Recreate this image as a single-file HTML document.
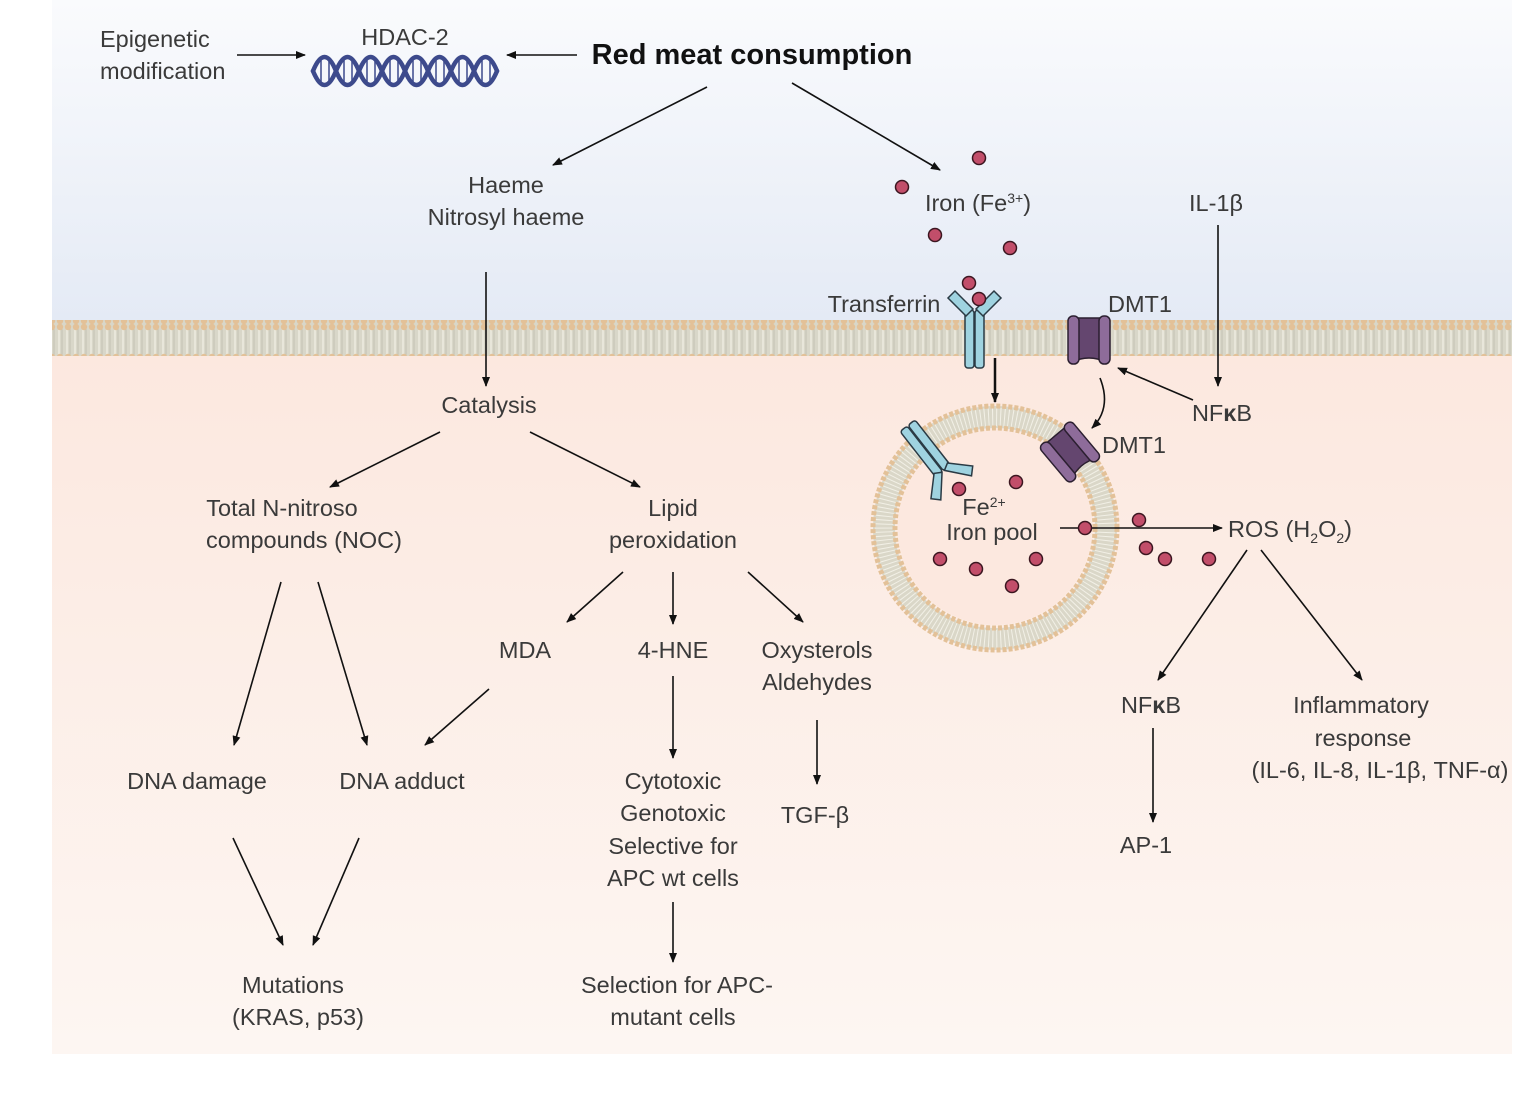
<!DOCTYPE html>
<html><head><meta charset="utf-8"><style>
html,body{margin:0;padding:0;background:#fff}
svg{display:block}
text{font-family:"Liberation Sans",sans-serif;font-size:23.5px;fill:#3a3a3a;text-anchor:middle}
</style></head><body>
<svg width="1536" height="1108" viewBox="0 0 1536 1108" xmlns="http://www.w3.org/2000/svg">
<defs>
<linearGradient id="top" x1="0" y1="0" x2="0" y2="1">
<stop offset="0" stop-color="#fafbfd"/><stop offset="1" stop-color="#e4eaf5"/></linearGradient>
<linearGradient id="bot" x1="0" y1="0" x2="0" y2="1">
<stop offset="0" stop-color="#fce8df"/><stop offset="1" stop-color="#fdf6f2"/></linearGradient>
<pattern id="lip" width="8" height="36" patternUnits="userSpaceOnUse">
<rect width="8" height="36" fill="#d9d7c9"/>
<line x1="3" y1="5" x2="3" y2="31" stroke="#f2f0e6" stroke-width="1.2"/>
<line x1="6" y1="5" x2="6" y2="31" stroke="#bdbcae" stroke-width="0.8"/>
<circle cx="4" cy="3" r="3.2" fill="#e3c198"/>
<circle cx="4" cy="33" r="3.2" fill="#e3c198"/>
</pattern>
<marker id="a" viewBox="0 0 10 10" refX="9" refY="5" markerWidth="10" markerHeight="10" markerUnits="userSpaceOnUse" orient="auto">
<path d="M0,1 L10,5 L0,9 z" fill="#111"/></marker>
</defs>
<rect x="52" y="0" width="1460" height="322" fill="url(#top)"/>
<rect x="52" y="354" width="1460" height="700" fill="url(#bot)"/>
<rect x="52" y="320" width="1460" height="36" fill="url(#lip)"/>

<!-- vesicle -->
<circle cx="995" cy="528" r="111" fill="none" stroke="#dad7c8" stroke-width="22"/>
<circle cx="995" cy="528" r="111" fill="none" stroke="#f2f0e6" stroke-width="18" stroke-dasharray="1 3"/>
<circle cx="995" cy="528" r="122" fill="none" stroke="#e3c198" stroke-width="5" stroke-dasharray="4 2"/>
<circle cx="995" cy="528" r="100" fill="none" stroke="#e3c198" stroke-width="5" stroke-dasharray="4 2"/>
<circle cx="995" cy="528" r="97" fill="#fce8df"/>

<!-- DNA -->
<g stroke="#3d4a8c" stroke-width="1.5">
<path d="M321,60v22M329,58v26M344,60v22M352,58v26M367,60v22M375,58v26M390,60v22M398,58v26M413,60v22M421,58v26M436,60v22M444,58v26M459,60v22M467,58v26M482,60v22M490,58v26"/></g>
<g fill="none" stroke="#3d4a8c" stroke-width="4.5" stroke-linecap="round">
<path d="M313,71 Q324.5,43 336,71 T359,71 T382,71 T405,71 T428,71 T451,71 T474,71 T497,71"/>
<path d="M313,71 Q324.5,99 336,71 T359,71 T382,71 T405,71 T428,71 T451,71 T474,71 T497,71"/>
</g>

<!-- arrows -->
<g stroke="#111" stroke-width="1.6" fill="none" marker-end="url(#a)">
<line x1="237" y1="55" x2="305" y2="55"/>
<line x1="577" y1="55" x2="507" y2="55"/>
<line x1="707" y1="87" x2="553" y2="165"/>
<line x1="792" y1="83" x2="940" y2="170"/>
<line x1="486" y1="272" x2="486" y2="386"/>
<line x1="440" y1="432" x2="330" y2="487"/>
<line x1="530" y1="432" x2="640" y2="487"/>
<line x1="281" y1="582" x2="234" y2="745"/>
<line x1="318" y1="582" x2="367" y2="745"/>
<line x1="489" y1="689" x2="425" y2="745"/>
<line x1="623" y1="572" x2="567" y2="622"/>
<line x1="673" y1="572" x2="673" y2="624"/>
<line x1="748" y1="572" x2="803" y2="622"/>
<line x1="673" y1="676" x2="673" y2="758"/>
<line x1="817" y1="720" x2="817" y2="784"/>
<line x1="233" y1="838" x2="283" y2="945"/>
<line x1="359" y1="838" x2="313" y2="945"/>
<line x1="673" y1="902" x2="673" y2="962"/>
<line x1="1218" y1="225" x2="1218" y2="386"/>
<line x1="1193" y1="400" x2="1118" y2="368"/>
<line x1="995" y1="358" x2="995" y2="402" stroke-width="2.5"/>
<path d="M1100,378 Q1112,408 1092,428"/>
<line x1="1060" y1="528" x2="1222" y2="528"/>
<line x1="1247" y1="550" x2="1158" y2="680"/>
<line x1="1261" y1="550" x2="1362" y2="680"/>
<line x1="1153" y1="728" x2="1153" y2="822"/>
</g>

<!-- transferrin top -->
<g fill="#9fd3e0" stroke="#2a3a44" stroke-width="1.5">
<rect x="965" y="310" width="9" height="58" rx="3"/><rect x="975" y="310" width="9" height="58" rx="3"/>
<path d="M966,316 L948,298 L955,291 L973,309z"/><path d="M983,316 L1001,298 L994,291 L976,309z"/>
</g>
<g transform="translate(935,460) rotate(-38)" fill="#9fd3e0" stroke="#2a3a44" stroke-width="1.5">
<rect x="-10" y="-44" width="9" height="58" rx="3"/><rect x="0" y="-44" width="9" height="58" rx="3"/>
<path d="M-9,10 L-27,28 L-20,35 L-2,14z"/><path d="M8,10 L26,28 L19,35 L1,14z"/>
</g>
<!-- DMT1 -->
<g fill="#7a5a86" stroke="#2b1f30" stroke-width="1.5">
<path d="M1072,318 h34 v44 q-17,-8 -34,0z" fill="#64466f"/>
<rect x="1068" y="316" width="11" height="48" rx="5" fill="#8e6c9a"/>
<rect x="1099" y="316" width="11" height="48" rx="5" fill="#8e6c9a"/>
</g>
<g transform="translate(1070,452) rotate(-40)" fill="#7a5a86" stroke="#2b1f30" stroke-width="1.5">
<path d="M-17,-22 h34 v44 q-17,-8 -34,0z" fill="#64466f"/>
<rect x="-21" y="-24" width="11" height="48" rx="5" fill="#8e6c9a"/>
<rect x="10" y="-24" width="11" height="48" rx="5" fill="#8e6c9a"/>
</g>

<!-- dots -->
<g fill="#c24e6a" stroke="#3b1620" stroke-width="1.5">
<circle cx="979" cy="158" r="6.5"/><circle cx="902" cy="187" r="6.5"/><circle cx="935" cy="235" r="6.5"/><circle cx="1010" cy="248" r="6.5"/>
<circle cx="969" cy="283" r="6.5"/><circle cx="979" cy="299" r="6.5"/><circle cx="1016" cy="482" r="6.5"/><circle cx="959" cy="489" r="6.5"/>
<circle cx="1085" cy="528" r="6.5"/><circle cx="1139" cy="520" r="6.5"/><circle cx="1146" cy="548" r="6.5"/><circle cx="1165" cy="559" r="6.5"/>
<circle cx="1209" cy="559" r="6.5"/><circle cx="940" cy="559" r="6.5"/><circle cx="976" cy="569" r="6.5"/><circle cx="1036" cy="559" r="6.5"/><circle cx="1012" cy="586" r="6.5"/>
</g>

<!-- text -->
<text x="100" y="47" style="text-anchor:start">Epigenetic</text>
<text x="100" y="79" style="text-anchor:start">modification</text>
<text x="405" y="45">HDAC-2</text>
<text x="752" y="64" style="font-size:29px;font-weight:bold;fill:#111">Red meat consumption</text>
<text x="506" y="193">Haeme</text>
<text x="506" y="225">Nitrosyl haeme</text>
<text x="978" y="211">Iron (Fe<tspan dy="-8" style="font-size:14px">3+</tspan><tspan dy="8">)</tspan></text>
<text x="1216" y="211">IL-1β</text>
<text x="884" y="312">Transferrin</text>
<text x="1140" y="312">DMT1</text>
<text x="489" y="413">Catalysis</text>
<text x="1222" y="421">NF<tspan font-weight="bold">κ</tspan>B</text>
<text x="1134" y="453">DMT1</text>
<text x="282" y="516">Total N-nitroso</text>
<text x="304" y="548">compounds (NOC)</text>
<text x="673" y="516">Lipid</text>
<text x="673" y="548">peroxidation</text>
<text x="984" y="515">Fe<tspan dy="-8" style="font-size:14px">2+</tspan></text>
<text x="992" y="540">Iron pool</text>
<text x="1290" y="537">ROS (H<tspan dy="6" style="font-size:14px">2</tspan><tspan dy="-6">O</tspan><tspan dy="6" style="font-size:14px">2</tspan><tspan dy="-6">)</tspan></text>
<text x="525" y="658">MDA</text>
<text x="673" y="658">4-HNE</text>
<text x="817" y="658">Oxysterols</text>
<text x="817" y="690">Aldehydes</text>
<text x="1151" y="713">NF<tspan font-weight="bold">κ</tspan>B</text>
<text x="1361" y="713">Inflammatory</text>
<text x="1363" y="746">response</text>
<text x="1380" y="778">(IL-6, IL-8, IL-1β, TNF-α)</text>
<text x="197" y="789">DNA damage</text>
<text x="402" y="789">DNA adduct</text>
<text x="673" y="789">Cytotoxic</text>
<text x="673" y="821">Genotoxic</text>
<text x="673" y="854">Selective for</text>
<text x="673" y="886">APC wt cells</text>
<text x="815" y="823">TGF-β</text>
<text x="1146" y="853">AP-1</text>
<text x="293" y="993">Mutations</text>
<text x="298" y="1025">(KRAS, p53)</text>
<text x="677" y="993">Selection for APC-</text>
<text x="673" y="1025">mutant cells</text>
</svg>
</body></html>
